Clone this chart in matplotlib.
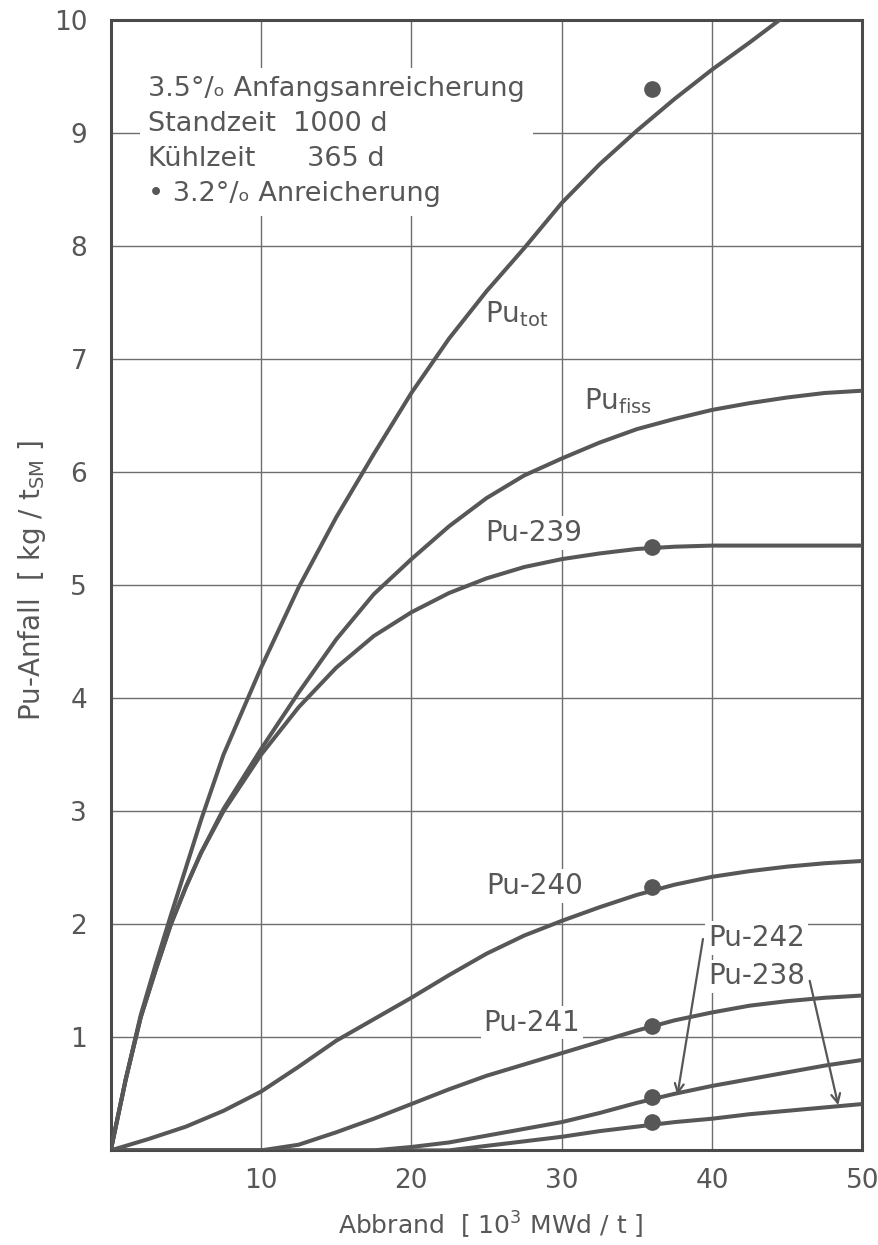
import matplotlib
matplotlib.use("Agg")
import matplotlib.pyplot as plt

# Abbrand [10^3 MWd/t]
x_main = [0, 1, 2, 3, 4, 5, 6, 7.5, 10, 12.5, 15, 17.5, 20, 22.5, 25, 27.5,
          30, 32.5, 35, 37.5, 40, 42.5, 45, 47.5, 50]
pu_tot = [0, 0.63, 1.2, 1.65, 2.08, 2.5, 2.92, 3.5, 4.27, 4.98, 5.6, 6.16, 6.7,
          7.18, 7.6, 7.98, 8.38, 8.72, 9.02, 9.3, 9.56, 9.8, 10.05, 10.3, 10.55]
pu_fiss = [0, 0.63, 1.18, 1.6, 2.0, 2.33, 2.63, 3.02, 3.55, 4.05, 4.52, 4.92,
           5.23, 5.52, 5.77, 5.97, 6.12, 6.26, 6.38, 6.47, 6.55, 6.61, 6.66, 6.7, 6.72]
pu_239 = [0, 0.63, 1.18, 1.6, 2.0, 2.33, 2.63, 3.0, 3.5, 3.92, 4.27, 4.55, 4.76,
          4.93, 5.06, 5.16, 5.23, 5.28, 5.32, 5.34, 5.35, 5.35, 5.35, 5.35, 5.35]

x_low = [0, 2.5, 5, 7.5, 10, 12.5, 15, 17.5, 20, 22.5, 25, 27.5, 30, 32.5,
         35, 37.5, 40, 42.5, 45, 47.5, 50]
pu_240 = [0, 0.1, 0.21, 0.35, 0.52, 0.74, 0.97, 1.16, 1.35, 1.55, 1.74, 1.9,
          2.03, 2.15, 2.26, 2.35, 2.42, 2.47, 2.51, 2.54, 2.56]
pu_241 = [0, 0, 0, 0, 0, 0.05, 0.16, 0.28, 0.41, 0.54, 0.66, 0.76, 0.86, 0.96,
          1.06, 1.15, 1.22, 1.28, 1.32, 1.35, 1.37]
pu_242 = [0, 0, 0, 0, 0, 0, 0, 0, 0.03, 0.07, 0.13, 0.19, 0.25, 0.33, 0.42,
          0.5, 0.57, 0.63, 0.69, 0.75, 0.8]
pu_238 = [0, 0, 0, 0, 0, 0, 0, 0, 0, 0, 0.04, 0.08, 0.12, 0.17, 0.21, 0.25,
          0.28, 0.32, 0.35, 0.38, 0.41]

# Messpunkte 3.2 % Anreicherung
dot_x = [36, 36, 36, 36, 36, 36]
dot_y = [9.39, 5.34, 2.33, 1.1, 0.47, 0.25]

x_ticks = [10, 20, 30, 40, 50]
y_ticks = [1, 2, 3, 4, 5, 6, 7, 8, 9, 10]

ink = "#575757"
grid_c = "#6e6e6e"
white_box = dict(facecolor="white", edgecolor="none", pad=2)

fig = plt.figure(figsize=(8.79, 12.45), dpi=100)
ax = fig.add_axes([0.126, 0.076, 0.855, 0.908])

for xs, ys in [(x_main, pu_tot), (x_main, pu_fiss), (x_main, pu_239),
               (x_low, pu_240), (x_low, pu_241), (x_low, pu_242), (x_low, pu_238)]:
    ax.plot(xs, ys, color=ink, lw=2.9, solid_capstyle="round",
            solid_joinstyle="round", zorder=3)

ax.plot(dot_x, dot_y, "o", color=ink, ms=11, zorder=4)

ax.set_xlim(0, 50)
ax.set_ylim(0, 10)
ax.set_xticks(x_ticks)
ax.set_yticks(y_ticks)
ax.tick_params(length=0, labelsize=19, colors=ink)
ax.tick_params(axis="y", pad=17)
ax.tick_params(axis="x", pad=13)
ax.grid(True, color=grid_c, lw=1.0)
ax.set_axisbelow(True)
for s in ax.spines.values():
    s.set_color("#4a4a4a")
    s.set_linewidth(2.2)

ax.set_xlabel("Abbrand  [ 10$^3$ MWd / t ]", fontsize=18, color=ink, va="top")
ax.xaxis.set_label_coords(0.505, -0.053)
ax.set_ylabel("Pu-Anfall  [ kg / t$_{\\mathrm{SM}}$ ]", fontsize=20, color=ink)
ax.yaxis.set_label_coords(-0.083, 0.504)

info = ("3.5°/\u2092 Anfangsanreicherung\n"
        "Standzeit  1000 d\n"
        "Kühlzeit      365 d\n"
        "\u2022 3.2°/\u2092 Anreicherung")
ax.text(2.5, 9.5, info, fontsize=19.5, color=ink, va="top", ha="left",
        linespacing=1.45, bbox=dict(facecolor="white", edgecolor="none", pad=6), zorder=2)

lab = dict(fontsize=20, color=ink, zorder=2, bbox=white_box)
ax.text(24.9, 7.33, "Pu$_{\\mathrm{tot}}$", va="baseline", **lab)
ax.text(31.5, 6.56, "Pu$_{\\mathrm{fiss}}$", va="baseline", **lab)
ax.text(24.9, 5.46, "Pu-239", va="center", **lab)
ax.text(25.0, 2.34, "Pu-240", va="center", **lab)
ax.text(24.8, 1.13, "Pu-241", va="center", **lab)
ax.text(39.75, 1.88, "Pu-242", va="center", **lab)
ax.text(39.75, 1.54, "Pu-238", va="center", **lab)

arrow = dict(arrowstyle="->", color=ink, lw=1.6, mutation_scale=16,
             shrinkA=0, shrinkB=0)
ax.annotate("", xy=(37.7, 0.49), xytext=(39.4, 1.87), arrowprops=arrow, zorder=5)
ax.annotate("", xy=(48.4, 0.40), xytext=(46.5, 1.5), arrowprops=arrow, zorder=5)

fig.savefig("out.png", dpi=100)
